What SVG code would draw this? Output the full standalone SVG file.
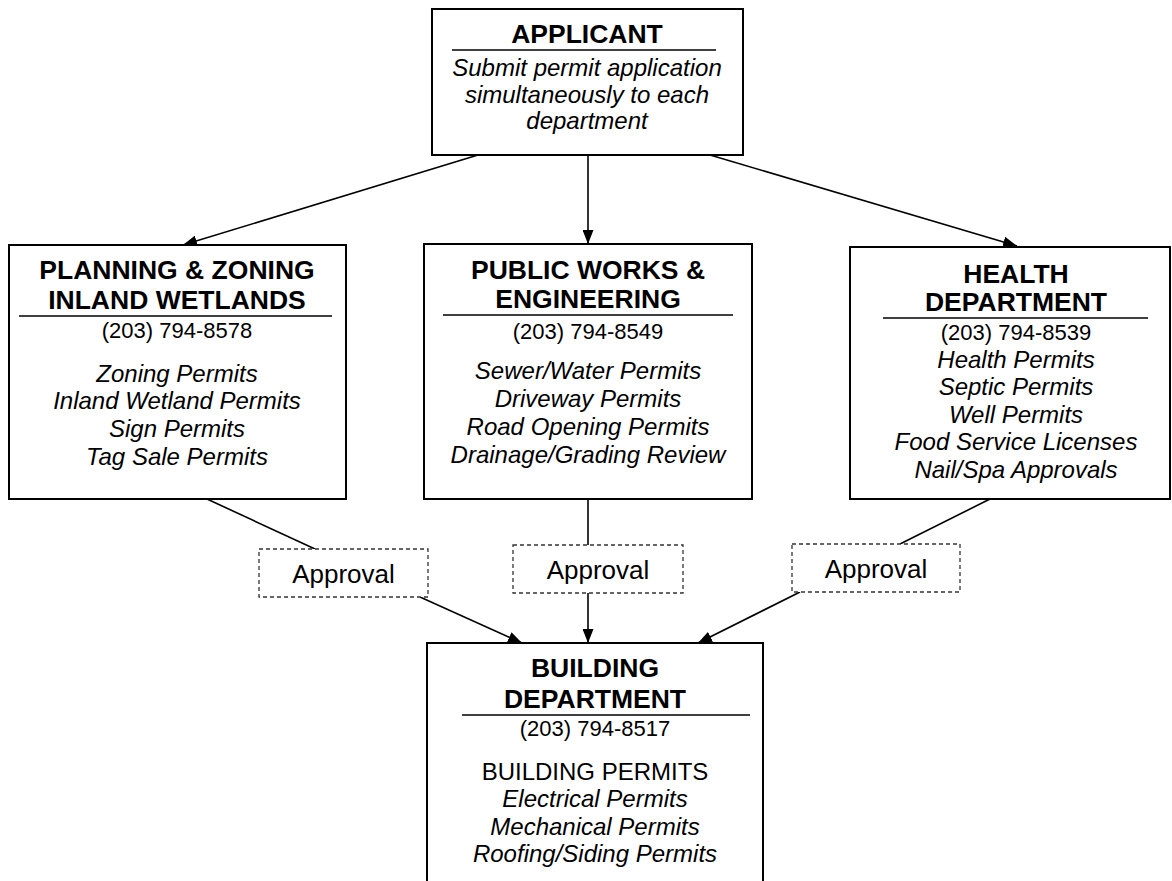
<svg xmlns="http://www.w3.org/2000/svg" width="1172" height="881" viewBox="0 0 1172 881">
<defs>
<style>
.box{fill:#fff;stroke:#000;stroke-width:2}
.appr{fill:#fff;stroke:#333;stroke-width:1.3;stroke-dasharray:4 3}
.rule{stroke:#000;stroke-width:1.5}
.t{font-family:"Liberation Sans",Arial,sans-serif;text-anchor:middle;fill:#000}
.h{font-size:26.5px;font-weight:bold}
.i{font-size:24px;font-style:italic}
.p{font-size:22px}
.r{font-size:24px}
.a{font-size:26px}
.c{stroke:#000;stroke-width:1.6;fill:none}
</style>
<marker id="ah" viewBox="0 0 14 11" refX="14" refY="5.5" markerWidth="14" markerHeight="11" markerUnits="userSpaceOnUse" orient="auto">
<path d="M0,0 L14,5.5 L0,11 Z" fill="#000"/>
</marker>
</defs>
<rect width="1172" height="881" fill="#fff"/>

<g id="connectors">
<line class="c" x1="478" y1="155" x2="183" y2="245" marker-end="url(#ah)"/>
<line class="c" x1="588" y1="155" x2="588" y2="244" marker-end="url(#ah)"/>
<line class="c" x1="710" y1="155" x2="1017" y2="246" marker-end="url(#ah)"/>
<line class="c" x1="207" y1="499" x2="315" y2="549"/>
<line class="c" x1="420" y1="597" x2="522" y2="643" marker-end="url(#ah)"/>
<line class="c" x1="588" y1="499" x2="588" y2="545"/>
<line class="c" x1="588" y1="593" x2="588" y2="643" marker-end="url(#ah)"/>
<line class="c" x1="990" y1="499" x2="900" y2="544"/>
<line class="c" x1="800" y1="592" x2="698" y2="643" marker-end="url(#ah)"/>
</g>

<g id="applicant">
<rect class="box" x="432" y="9" width="311" height="146"/>
<text class="t h" x="587" y="43">APPLICANT</text>
<line class="rule" x1="452" y1="50" x2="716" y2="50"/>
<text class="t i" x="587" y="76">Submit permit application</text>
<text class="t i" x="587" y="103">simultaneously to each</text>
<text class="t i" x="587" y="129">department</text>
</g>

<g id="planning">
<rect class="box" x="9" y="245" width="337" height="254"/>
<text class="t h" x="177" y="279">PLANNING &amp; ZONING</text>
<text class="t h" x="177" y="309">INLAND WETLANDS</text>
<line class="rule" x1="19" y1="316" x2="332" y2="316"/>
<text class="t p" x="177" y="338">(203) 794-8578</text>
<text class="t i" x="177" y="382">Zoning Permits</text>
<text class="t i" x="177" y="409">Inland Wetland Permits</text>
<text class="t i" x="177" y="437">Sign Permits</text>
<text class="t i" x="177" y="465">Tag Sale Permits</text>
</g>

<g id="publicworks">
<rect class="box" x="424" y="244" width="328" height="255"/>
<text class="t h" x="588" y="279">PUBLIC WORKS &amp;</text>
<text class="t h" x="588" y="308">ENGINEERING</text>
<line class="rule" x1="443" y1="315" x2="733" y2="315"/>
<text class="t p" x="588" y="339">(203) 794-8549</text>
<text class="t i" x="588" y="379">Sewer/Water Permits</text>
<text class="t i" x="588" y="407">Driveway Permits</text>
<text class="t i" x="588" y="435">Road Opening Permits</text>
<text class="t i" x="588" y="463">Drainage/Grading Review</text>
</g>

<g id="health">
<rect class="box" x="850" y="247" width="320" height="252"/>
<text class="t h" x="1016" y="283">HEALTH</text>
<text class="t h" x="1016" y="311">DEPARTMENT</text>
<line class="rule" x1="883" y1="318" x2="1148" y2="318"/>
<text class="t p" x="1016" y="340">(203) 794-8539</text>
<text class="t i" x="1016" y="368">Health Permits</text>
<text class="t i" x="1016" y="395">Septic Permits</text>
<text class="t i" x="1016" y="423">Well Permits</text>
<text class="t i" x="1016" y="450">Food Service Licenses</text>
<text class="t i" x="1016" y="478">Nail/Spa Approvals</text>
</g>

<g id="approval1">
<rect class="appr" x="259" y="549" width="169" height="48"/>
<text class="t a" x="343.5" y="583">Approval</text>
</g>
<g id="approval2">
<rect class="appr" x="513" y="545" width="170" height="48"/>
<text class="t a" x="598" y="579">Approval</text>
</g>
<g id="approval3">
<rect class="appr" x="792" y="544" width="168" height="48"/>
<text class="t a" x="876" y="578">Approval</text>
</g>

<g id="building">
<rect class="box" x="427" y="643" width="336" height="260"/>
<text class="t h" x="595" y="677">BUILDING</text>
<text class="t h" x="595" y="708">DEPARTMENT</text>
<line class="rule" x1="462" y1="715" x2="750" y2="715"/>
<text class="t p" x="595" y="736">(203) 794-8517</text>
<text class="t r" x="595" y="780">BUILDING PERMITS</text>
<text class="t i" x="595" y="807">Electrical Permits</text>
<text class="t i" x="595" y="835">Mechanical Permits</text>
<text class="t i" x="595" y="862">Roofing/Siding Permits</text>
</g>
</svg>
